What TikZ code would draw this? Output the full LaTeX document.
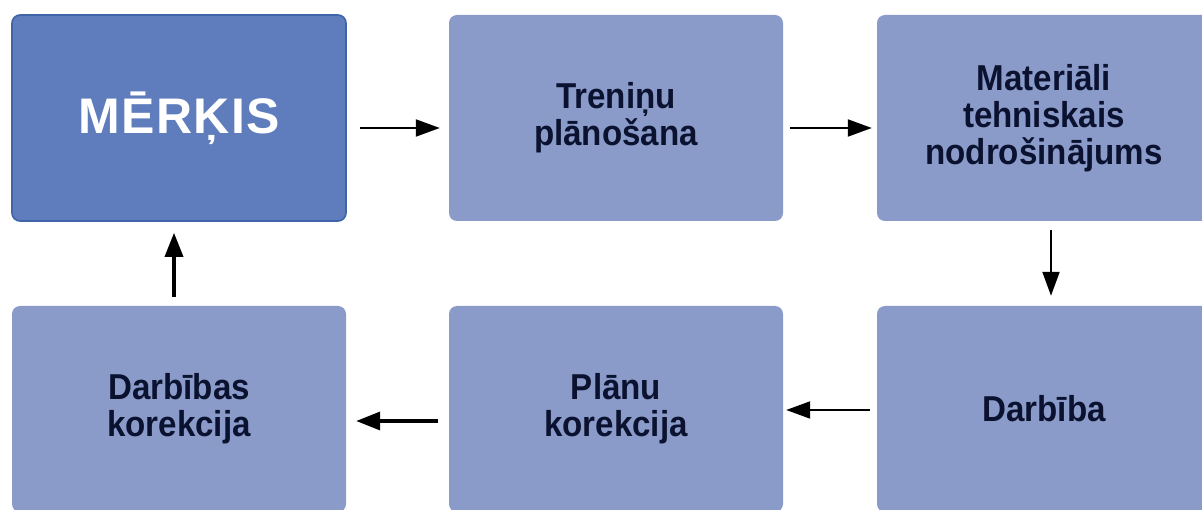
\documentclass[tikz,border=0pt]{standalone}
\usepackage{fontspec}
\setmainfont{Liberation Sans}
\usetikzlibrary{arrows.meta}
\definecolor{boxlight}{HTML}{8A9BC9}
\definecolor{boxdark}{HTML}{5F7CBC}
\definecolor{boxedge}{HTML}{3F64A8}
\definecolor{txt}{HTML}{0B1230}
\newfontfamily\condbold[FakeStretch=0.92]{Liberation Sans Bold}
\tikzset{
  box/.style={rectangle, rounded corners=8pt, fill=boxlight, minimum width=334pt, minimum height=206pt, inner sep=0pt, align=center, text=txt, font=\fontsize{36}{37}\selectfont\condbold},
  goal/.style={box, fill=boxdark, draw=boxedge, line width=1.6pt, text=white, font=\fontsize{50}{56}\selectfont\bfseries\addfontfeature{LetterSpace=3}},
  arr/.style={line width=2pt, -{Triangle[length=24pt,width=17pt]}},
  arrthick/.style={line width=3.5pt, -{Triangle[length=24pt,width=18pt]}}
}
\begin{document}
\begin{tikzpicture}[x=1pt,y=-1pt]
\useasboundingbox (0,0) rectangle (1202,510);
\fill[white] (0,0) rectangle (1202,510);
\clip (0,0) rectangle (1202,510);
\node[goal] (merk) at (179,118) {MĒRĶIS};
\node[box] (plan) at (616,118) {Treniņu\\plānošana};
\node[box] (mat) at (1044,118) {Materiāli\\tehniskais\\nodrošinājums};
\node[box] (darb) at (1044,409) {Darbība};
\node[box] (plk) at (616,409) {Plānu\\korekcija};
\node[box] (dk) at (179,409) {Darbības\\korekcija};
\coordinate (ya) at (0,128);
\coordinate (yb) at (0,410);
\coordinate (yc) at (0,421);
\coordinate (xd) at (1051,0);
\coordinate (xu) at (174,0);
\draw[arr, shorten <=13pt, shorten >=9pt] (merk.east |- ya) -- (plan.west |- ya);
\draw[arr, shorten <=7pt, shorten >=5pt] (plan.east |- ya) -- (mat.west |- ya);
\draw[arr, shorten <=9pt, shorten >=10pt] (xd |- mat.south) -- (xd |- darb.north);
\draw[arr, shorten <=7pt, shorten >=3pt] (darb.west |- yb) -- (plk.east |- yb);
\draw[arrthick, shorten <=11pt, shorten >=10pt] (plk.west |- yc) -- (dk.east |- yc);
\draw[arrthick, shorten <=9pt, shorten >=11pt] (xu |- dk.north) -- (xu |- merk.south);
\end{tikzpicture}
\end{document}
